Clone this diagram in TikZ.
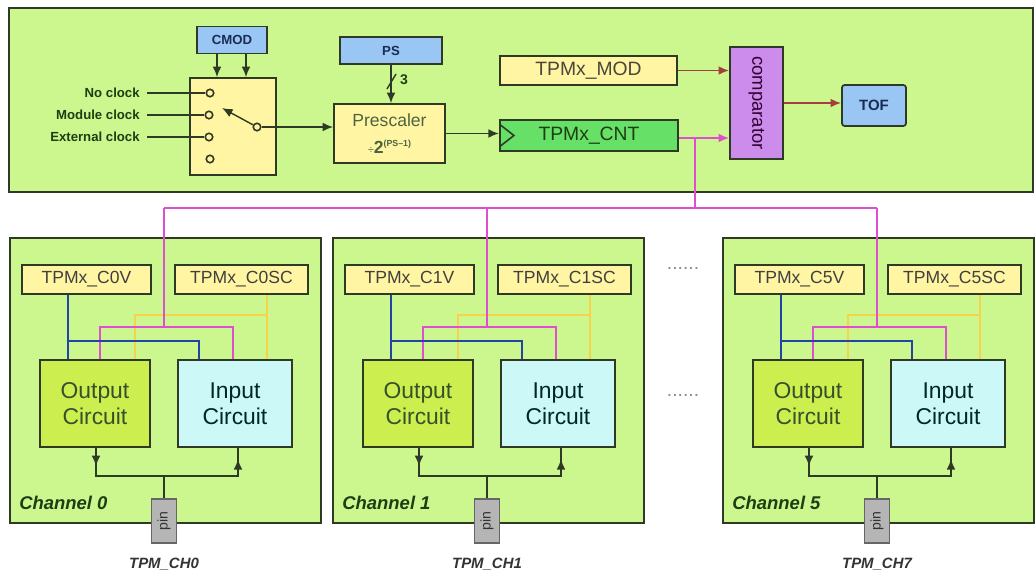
\documentclass[tikz,border=0pt]{standalone}
\usepackage{fontspec}
\setmainfont{Liberation Sans}
\usetikzlibrary{arrows.meta,calc}
\definecolor{panelgreen}{HTML}{CCF78E}
\definecolor{regyellow}{HTML}{FFF5A3}
\definecolor{regblue}{HTML}{99C6F2}
\definecolor{cntgreen}{HTML}{66E066}
\definecolor{cmpviolet}{HTML}{CC8CEB}
\definecolor{outgreen}{HTML}{CCEE4E}
\definecolor{incyan}{HTML}{CCF8F8}
\definecolor{busmag}{HTML}{DD4FD0}
\definecolor{brnred}{HTML}{A3403F}
\definecolor{wireblue}{HTML}{2245A5}
\definecolor{wireyel}{HTML}{F6D34A}
\definecolor{darkedge}{HTML}{2F3A26}
\definecolor{textgreen}{HTML}{1F3D12}
\definecolor{textnavy}{HTML}{1A2B55}
\definecolor{pingray}{HTML}{B5B5B5}
\begin{document}
\begin{tikzpicture}[x=0.02cm, y=-0.02cm, >={Latex[length=6pt,width=5pt]},
  panel/.style={draw=darkedge, line width=1.1pt, fill=panelgreen},
  box/.style={draw=darkedge, line width=1pt, inner sep=0pt},
  regbox/.style={box, fill=regyellow, text=black!75, font=\fontsize{10}{12}\selectfont},
  keybox/.style={box, fill=regblue, text=textnavy, font=\bfseries\fontsize{7.5}{9}\selectfont},
  sock/.style={circle, draw=darkedge, line width=0.9pt, fill=regyellow, minimum size=0.15cm, inner sep=0pt},
  clk/.style={font=\bfseries\fontsize{7.5}{9}\selectfont, text=textgreen, inner sep=0pt},
  circbox/.style={box, align=center, font=\fontsize{13}{15}\selectfont, minimum height=1.74cm},
  pinbox/.style={draw=black!60, line width=0.9pt, fill=pingray, inner sep=0pt, rotate=90, minimum width=0.88cm, minimum height=0.5cm, font=\fontsize{8}{9}\selectfont, text=black!80},
  wire/.style={draw=darkedge, line width=0.8pt},
  buswire/.style={draw=busmag, line width=1pt},
  brnwire/.style={draw=brnred, line width=1pt},
  bluewire/.style={draw=wireblue, line width=1pt},
  yelwire/.style={draw=wireyel, line width=1pt}]
  \fill[white] (0,0) rectangle (1036,572);
  \useasboundingbox (0,0) rectangle (1036,572);
  % clock selection, prescaler and counter
  \draw[panel] (9,8) rectangle (1033,192);
  \node[keybox, minimum width=1.4cm, minimum height=0.54cm] (cmod) at (232,40) {CMOD};
  \node[box, fill=regyellow, minimum width=1.72cm, minimum height=1.94cm] (sw) at (233,126.5) {};
  \node[sock] (s0) at (210,93) {};
  \node[sock] (s1) at (209,115) {};
  \node[sock] (s2) at (209,137) {};
  \node[sock] (s3) at (210,159) {};
  \node[sock] (sp) at (257,127) {};
  \coordinate (lev) at (222,108);
  \node[clk, anchor=east] (nclk) at (140,93) {No clock};
  \node[clk, anchor=east] (mclk) at (140,115) {Module clock};
  \node[clk, anchor=east] (eclk) at (140,137) {External clock};
  \draw[wire] ([xshift=4pt]nclk.east) -- (s0.west);
  \draw[wire] ([xshift=4pt]mclk.east) -- (s1.west);
  \draw[wire] ([xshift=4pt]eclk.east) -- (s2.west);
  \draw[wire, ->] (sp) -- (lev);
  \draw[wire, ->] ($(cmod.south)+(-15,0)$) -- ($(sw.north)+(-16,0)$);
  \draw[wire, ->] ($(cmod.south)+(14,0)$) -- ($(sw.north)+(13,0)$);
  \node[keybox, minimum width=2.04cm, minimum height=0.54cm] (ps) at (391,50.5) {PS};
  \node[box, fill=regyellow, minimum width=2.22cm, minimum height=1.18cm, align=center, text=textgreen!80, font=\fontsize{10}{15}\selectfont] (presc) at (389.5,133.5) {Prescaler\\{\fontsize{6}{6}\selectfont ÷}{\bfseries\fontsize{10}{10}\selectfont 2}\raisebox{3.5pt}{\bfseries\fontsize{5}{5}\selectfont (PS–1)}};
  \draw[wire, ->] (sp.east) -- (sp.east -| presc.west);
  \draw[wire, ->] (ps.south) -- (ps.south |- presc.north);
  \draw[wire] (387,89) -- (396,74);
  \node[font=\bfseries\fontsize{8}{9}\selectfont, text=textgreen] (psw) at (404,80) {3};
  \node[box, fill=cntgreen, line width=1.3pt, minimum width=3.56cm, minimum height=0.62cm, text=textgreen, font=\fontsize{11}{13}\selectfont] (cnt) at (589,135.5) {TPMx\_CNT};
  \draw[darkedge, line width=0.9pt] ($(cnt.west)+(1,-11)$) -- ($(cnt.west)+(15,0)$) -- ($(cnt.west)+(1,11)$);
  \draw[wire, ->] (presc.east) -- (presc.east -| cnt.west);
  \node[regbox, text=black!70!yellow!60!black, minimum width=3.54cm, minimum height=0.58cm, font=\fontsize{11}{13}\selectfont] (mod) at (588.5,70.5) {TPMx\_MOD};
  \node[box, fill=cmpviolet, rotate=-90, minimum width=2.24cm, minimum height=1.06cm, text=violet!40!black, font=\fontsize{10.5}{12}\selectfont] (cmp) at (756.5,103) {comparator};
  \node[keybox, rounded corners=1.5pt, minimum width=1.28cm, minimum height=0.82cm, font=\bfseries\fontsize{8.5}{10}\selectfont] (tof) at (874,105.5) {TOF};
  \draw[brnwire, ->] (mod.east) -- (mod.east -| cmp.south);
  \draw[brnwire, ->] (cmp.north) -- (cmp.north -| tof.west);
  \coordinate (cq) at ($(cnt.east)+(0,2.5)$);
  \coordinate (tap) at ($(cq)+(16,0)$);
  \draw[buswire, ->] (cq) -- (cq -| cmp.south);
  % channels
  \foreach \cx/\cn/\pn in {10/0/0, 333/1/1, 723/5/7}{
    \begin{scope}[shift={(\cx,0)}]
      \draw[panel] (0,238) rectangle (311,523);
      \node[regbox, minimum width=2.58cm, minimum height=0.58cm] (cv\cn) at (76.5,279.5) {TPMx\_C\cn V};
      \node[regbox, minimum width=2.66cm, minimum height=0.58cm] (csc\cn) at (231.5,279.5) {TPMx\_C\cn SC};
      \node[circbox, fill=outgreen, text=textgreen!90, minimum width=2.2cm] (out\cn) at (85,403.5) {Output\\Circuit};
      \node[circbox, fill=incyan, text=teal!30!black, minimum width=2.28cm] (in\cn) at (225,403.5) {Input\\Circuit};
      \node[pinbox] (pin\cn) at (154,521) {pin};
      \node[anchor=west, inner sep=0pt, text=textgreen, font=\bfseries\itshape\fontsize{10.5}{12}\selectfont] (chl\cn) at (9,503) {Channel \cn};
      \node[text=black!80, font=\bfseries\itshape\fontsize{8.5}{10}\selectfont] (tpm\cn) at (154,564) {TPM\_CH\pn};
      \coordinate (bus\cn) at (154,208);
      \coordinate (bj\cn) at (58,341);
      \coordinate (bk\cn) at (189,341);
      \coordinate (yr\cn) at (257,315);
      \coordinate (yl\cn) at (125,315);
      \coordinate (pj\cn) at (154,327);
      \coordinate (pl\cn) at (90,327);
      \coordinate (pr\cn) at (223,327);
      \coordinate (ol\cn) at (86,476);
      \coordinate (ir\cn) at (228,476);
      \coordinate (pt\cn) at (154,476);
      \draw[yelwire] (csc\cn.south -| yr\cn) -- (in\cn.north -| yr\cn);
      \draw[yelwire] (yr\cn) -- (yl\cn) -- (out\cn.north -| yl\cn);
      \draw[buswire] (bus\cn) -- (pj\cn);
      \draw[buswire] (out\cn.north -| pl\cn) -- (pl\cn) -- (pr\cn) -- (in\cn.north -| pr\cn);
      \draw[bluewire] (cv\cn.south -| bj\cn) -- (out\cn.north -| bj\cn);
      \draw[bluewire] (bj\cn) -- (bk\cn) -- (in\cn.north -| bk\cn);
      \draw[wire] (out\cn.south -| ol\cn) -- (ol\cn) -- (ir\cn) -- (in\cn.south -| ir\cn);
      \draw[wire, ->] (out\cn.south -| ol\cn) -- ($(out\cn.south -| ol\cn)!0.65!(ol\cn)$);
      \draw[wire, ->] (ir\cn) -- ($(ir\cn)!0.6!(in\cn.south -| ir\cn)$);
      \draw[wire] (pt\cn) -- (pin\cn.east);
    \end{scope}
  }
  \draw[buswire] (bus0) -- (bus5);
  \draw[buswire] (tap) -- (tap |- bus0);
  \node[text=black!45, font=\fontsize{11}{12}\selectfont] (gap1) at (683,268) {......};
  \node[text=black!45, font=\fontsize{11}{12}\selectfont] (gap2) at (683,395) {......};
\end{tikzpicture}
\end{document}
